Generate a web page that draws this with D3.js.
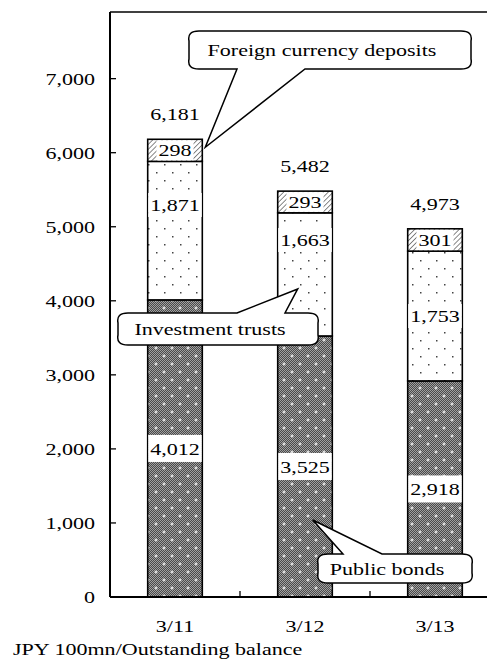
<!DOCTYPE html>
<html>
<head>
<meta charset="utf-8">
<script src="https://cdn.jsdelivr.net/npm/d3@7"></script>
<style>
  body { margin: 0; background: #fff; }
  svg text { font-family: 'Liberation Serif', 'Times New Roman', Times, 'DejaVu Serif', serif; font-size: 17.5px; fill: #000; }
</style>
</head>
<body>
<svg id="chart" width="487" height="659"></svg>
<script>
// data
var categories = ['3/11', '3/12', '3/13'];
var publicBonds = [4012, 3525, 2918];
var investmentTrusts = [1871, 1663, 1753];
var foreignDeposits = [298, 293, 301];
var totals = [6181, 5482, 4973];
var yTicks = [0, 1000, 2000, 3000, 4000, 5000, 6000, 7000];

// label spots for investment trusts (value units), the last sits at the middle
var itLabelAt = [5294, 4821, 2918 + 1753 / 2];

var SX = 1.26; // text in the original is stretched sideways
var svg = d3.select('#chart');

var x = d3.scaleBand().domain(categories).range([110, 500]).paddingInner(0.58).paddingOuter(0.29);
var y = d3.scaleLinear().domain([0, 7900]).range([597, 12]);
var bw = x.bandwidth();

function txt(parent, px, py, s, anchor, dy) {
    var g = parent.append('g').attr('transform', 'translate(' + px + ',' + py + ') scale(' + SX + ',1)');
    var t = g.append('text').attr('text-anchor', anchor || 'middle')
        .attr('font-family', "'Liberation Serif', 'DejaVu Serif', serif")
        .text(s);
    if (dy) t.attr('dy', dy);
    return t;
}

// patterns
var defs = svg.append('defs');
var chk = defs.append('pattern').attr('id', 'chk').attr('patternUnits', 'userSpaceOnUse')
    .attr('width', 2).attr('height', 2);
chk.append('rect').attr('width', 2).attr('height', 2).attr('fill', '#4a4a4a');
chk.append('rect').attr('x', 0).attr('y', 0).attr('width', 1).attr('height', 1).attr('fill', '#a0a0a0');
chk.append('rect').attr('x', 1).attr('y', 1).attr('width', 1).attr('height', 1).attr('fill', '#a0a0a0');

var pbDots = defs.append('pattern').attr('id', 'pbDots').attr('patternUnits', 'userSpaceOnUse')
    .attr('width', 16).attr('height', 16);
[[4, 4], [12, 12]].forEach(function (p) {
    pbDots.append('rect').attr('x', p[0] - 1.5).attr('y', p[1] - 0.5).attr('width', 3).attr('height', 1).attr('fill', '#fff');
    pbDots.append('rect').attr('x', p[0] - 0.5).attr('y', p[1] - 1.5).attr('width', 1).attr('height', 3).attr('fill', '#fff');
});

var itDots = defs.append('pattern').attr('id', 'itDots').attr('patternUnits', 'userSpaceOnUse')
    .attr('width', 16).attr('height', 16);
itDots.append('rect').attr('width', 16).attr('height', 16).attr('fill', '#fff');
[[4, 4], [12, 12]].forEach(function (p) {
    itDots.append('rect').attr('x', p[0]).attr('y', p[1]).attr('width', 1.5).attr('height', 1.5).attr('fill', '#444');
});

var hatch = defs.append('pattern').attr('id', 'hatch').attr('patternUnits', 'userSpaceOnUse')
    .attr('width', 3.5).attr('height', 3.5).attr('patternTransform', 'rotate(45)');
hatch.append('rect').attr('width', 3.5).attr('height', 3.5).attr('fill', '#fff');
hatch.append('line').attr('x1', 0).attr('y1', 0).attr('x2', 0).attr('y2', 3.5)
    .attr('stroke', '#555').attr('stroke-width', 1.4);

// stacked data
var rows = categories.map(function (c, i) {
    return {
        cat: c,
        segs: [
            { key: 'pb', y0: 0, y1: publicBonds[i], v: publicBonds[i] },
            { key: 'it', y0: publicBonds[i], y1: publicBonds[i] + investmentTrusts[i], v: investmentTrusts[i] },
            { key: 'fx', y0: publicBonds[i] + investmentTrusts[i], y1: publicBonds[i] + investmentTrusts[i] + foreignDeposits[i], v: foreignDeposits[i] }
        ]
    };
});

var bars = svg.append('g');
rows.forEach(function (r) {
    r.segs.forEach(function (s) {
        var rx = x(r.cat), ry = y(s.y1), rh = y(s.y0) - y(s.y1);
        if (s.key == 'pb') {
            bars.append('rect').attr('x', rx).attr('y', ry).attr('width', bw).attr('height', rh).attr('fill', 'url(#chk)');
            bars.append('rect').attr('x', rx).attr('y', ry).attr('width', bw).attr('height', rh)
                .attr('fill', 'url(#pbDots)').attr('stroke', '#000').attr('stroke-width', 1.6);
        } else {
            bars.append('rect').attr('x', rx).attr('y', ry).attr('width', bw).attr('height', rh)
                .attr('fill', s.key == 'it' ? 'url(#itDots)' : 'url(#hatch)')
                .attr('stroke', '#000').attr('stroke-width', 1.6);
        }
    });
});

// value labels with white boxes
var labels = svg.append('g');
rows.forEach(function (r, i) {
    var cx = x(r.cat) + bw / 2;
    r.segs.forEach(function (s) {
        var cy, bh;
        if (s.key == 'it') { cy = y(itLabelAt[i]); bh = 24; }
        else if (s.key == 'pb') { cy = y((s.y0 + s.y1) / 2); bh = 27; }
        else { cy = y((s.y0 + s.y1) / 2); bh = y(s.y0) - y(s.y1) - 2; }
        var box = labels.append('rect').attr('fill', '#fff');
        var t = txt(labels, cx, cy, d3.format(',')(s.v), 'middle', '0.35em');
        var w = t.node().getComputedTextLength() * SX + 4;
        box.attr('x', cx - w / 2).attr('y', cy - bh / 2).attr('width', w).attr('height', bh);
    });
    txt(labels, cx, y(totals[i]) - 19, d3.format(',')(totals[i]), 'middle');
});

// axes
var axes = svg.append('g');
axes.append('line').attr('x1', 110).attr('x2', 500).attr('y1', 12).attr('y2', 12).attr('stroke', '#000').attr('stroke-width', 1.6);
axes.append('line').attr('x1', 110).attr('x2', 110).attr('y1', 12).attr('y2', y(0)).attr('stroke', '#000').attr('stroke-width', 2);
axes.append('line').attr('x1', 110).attr('x2', 500).attr('y1', y(0)).attr('y2', y(0)).attr('stroke', '#000').attr('stroke-width', 2);
yTicks.forEach(function (v) {
    axes.append('line').attr('x1', 110).attr('x2', 116).attr('y1', y(v)).attr('y2', y(v)).attr('stroke', '#000').attr('stroke-width', 1.3);
    txt(axes, 95, y(v), d3.format(',')(v), 'end', '0.35em');
});
categories.forEach(function (c, i) {
    if (i > 0) {
        var bx = x(c) - x.step() * x.paddingInner() / 2;
        axes.append('line').attr('x1', bx).attr('x2', bx).attr('y1', y(0)).attr('y2', y(0) - 6).attr('stroke', '#000').attr('stroke-width', 1.3);
    }
    txt(axes, x(c) + bw / 2, 632, c, 'middle');
});
txt(svg, 13, 655, 'JPY 100mn/Outstanding balance', 'start');

// callouts
function callout(box, side, xa, xb, tip, label) {
    var x0 = box[0], y0 = box[1], x1 = box[2], y1 = box[3], r = 10;
    var p = d3.path();
    p.moveTo(x0 + r, y0);
    if (side == 'top') { p.lineTo(xa, y0); p.lineTo(tip[0], tip[1]); p.lineTo(xb, y0); }
    p.lineTo(x1 - r, y0);
    p.quadraticCurveTo(x1 + 2, y0, x1, y0 + r);
    p.lineTo(x1, y1 - r);
    p.quadraticCurveTo(x1 + 2, y1, x1 - r, y1);
    if (side == 'bottom') { p.lineTo(xb, y1); p.lineTo(tip[0], tip[1]); p.lineTo(xa, y1); }
    p.lineTo(x0 + r, y1);
    p.quadraticCurveTo(x0 - 2, y1, x0, y1 - r);
    p.lineTo(x0, y0 + r);
    p.quadraticCurveTo(x0 - 2, y0, x0 + r, y0);
    p.closePath();
    svg.append('path').attr('d', p.toString()).attr('fill', '#fff').attr('stroke', '#000').attr('stroke-width', 1.5);
    txt(svg, (x0 + x1) / 2 - 8, (y0 + y1) / 2 + 6, label, 'middle');
}

callout([189, 31, 471, 69], 'bottom', 237, 305,
    [x(categories[0]) + bw + 3, y(totals[0]) + 8], 'Foreign currency deposits');
callout([118, 313, 318, 345], 'top', 237, 285,
    [x(categories[1]) + 20, y(4160)], 'Investment trusts');
callout([318, 554, 472, 583], 'top', 343, 382,
    [x(categories[1]) + 35, y(1040)], 'Public bonds');
</script>
</body>
</html>
